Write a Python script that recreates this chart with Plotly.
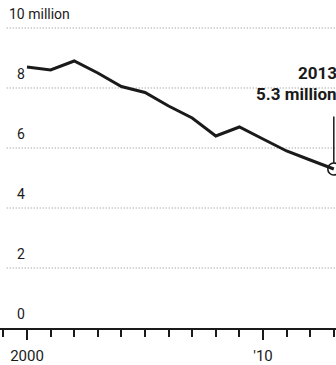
import plotly.graph_objects as go

# Annual values, millions
years = list(range(2000, 2014))
values = [8.7, 8.6, 8.9, 8.5, 8.05, 7.85, 7.4, 7.0, 6.4, 6.7, 6.3, 5.9, 5.6, 5.3]

grid_values = [2, 4, 6, 8, 10]
grid_labels = ["2", "4", "6", "8", "10 million"]
x_tick_vals = [2000, 2010]
x_tick_text = ["2000", "'10"]

FONT = "Roboto, Liberation Sans Narrow, Arial Narrow, sans-serif"
INK = "#1a1a1a"
Y_DOMAIN_BOTTOM = 37 / 365

fig = go.Figure()

fig.add_trace(go.Scatter(
    x=years, y=values, mode="lines",
    line=dict(color=INK, width=3),
    hoverinfo="skip", showlegend=False,
))

# Latest value highlighted
fig.add_trace(go.Scatter(
    x=[years[-1]], y=[values[-1]], mode="markers",
    marker=dict(symbol="circle-open", size=12, color=INK, line=dict(width=1.6)),
    cliponaxis=False, hoverinfo="skip", showlegend=False,
))

shapes = []
for v in grid_values:
    shapes.append(dict(
        type="line", xref="paper", yref="y", x0=0.02, x1=1, y0=v, y1=v,
        line=dict(color="#8a8a8a", width=1, dash="1px,2px"), layer="below",
    ))
# Leader from callout to the last point
shapes.append(dict(type="line", xref="x", yref="y", x0=years[-1], x1=years[-1],
                   y0=values[-1] + 0.2, y1=7.05, line=dict(color=INK, width=1.5)))

annotations = []
for v, t in zip(grid_values + [0], grid_labels + ["0"]):
    annotations.append(dict(
        x=0.02 if v == 10 else 0.045, xref="paper", y=v, yref="y",
        text=t, showarrow=False, xanchor="left", yanchor="bottom", yshift=4,
        font=dict(family=FONT, size=14, color=INK),
    ))
annotations.append(dict(
    x=1, xref="paper", y=8.5, yref="y", text="<b>%d</b>" % years[-1],
    showarrow=False, xanchor="right", yanchor="middle", xshift=3,
    font=dict(family=FONT, size=17, color=INK),
))
annotations.append(dict(
    x=1, xref="paper", y=7.8, yref="y", text="<b>%.1f million</b>" % values[-1],
    showarrow=False, xanchor="right", yanchor="middle", xshift=3,
    font=dict(family=FONT, size=17, color=INK),
))

fig.update_layout(
    width=336, height=365,
    margin=dict(l=0, r=0, t=0, b=0),
    paper_bgcolor="white", plot_bgcolor="white",
    shapes=shapes, annotations=annotations,
    xaxis=dict(
        range=[1998.856, 2013.093], showgrid=False, zeroline=False,
        showline=True, linecolor=INK, linewidth=2,
        tickmode="array", tickvals=x_tick_vals, ticktext=x_tick_text,
        ticks="outside", ticklen=10, tickwidth=2, tickcolor=INK,
        ticklabelstandoff=3,
        minor=dict(dtick=1, tick0=2000, ticks="outside", ticklen=7, tickwidth=1.5,
                   tickcolor=INK, showgrid=False),
        tickfont=dict(family=FONT, size=15, color=INK),
    ),
    yaxis=dict(
        domain=[Y_DOMAIN_BOTTOM, 1], range=[0, 10.933],
        showgrid=False, zeroline=False, showline=False, showticklabels=False,
    ),
)

fig.write_html("out.html")
